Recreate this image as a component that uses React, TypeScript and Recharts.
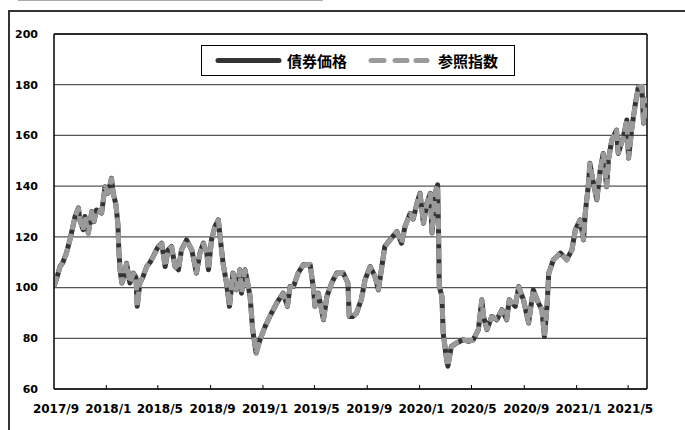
import React from 'react';
import { LineChart, Line, XAxis, YAxis, CartesianGrid, ReferenceLine } from 'recharts';

const dates = [
  '2017/9/1', '2017/9/8', '2017/9/15', '2017/9/22', '2017/9/30', '2017/10/8', '2017/10/15', '2017/10/20', '2017/10/28', '2017/10/31',
  '2017/11/8', '2017/11/12', '2017/11/20', '2017/11/28', '2017/12/3', '2017/12/9', '2017/12/21', '2017/12/29', '2018/1/5', '2018/1/13',
  '2018/1/17', '2018/1/23', '2018/1/28', '2018/1/30', '2018/2/2', '2018/2/6', '2018/2/11', '2018/2/17', '2018/2/25', '2018/3/5',
  '2018/3/11', '2018/3/14', '2018/3/20', '2018/3/27', '2018/4/5', '2018/4/13', '2018/4/20', '2018/5/2', '2018/5/10', '2018/5/18',
  '2018/5/25', '2018/6/2', '2018/6/10', '2018/6/18', '2018/6/25', '2018/7/7', '2018/7/19', '2018/7/30', '2018/8/7', '2018/8/15',
  '2018/8/23', '2018/8/27', '2018/9/3', '2018/9/11', '2018/9/19', '2018/9/23', '2018/9/30', '2018/10/8', '2018/10/15', '2018/10/23',
  '2018/10/31', '2018/11/8', '2018/11/12', '2018/11/20', '2018/11/25', '2018/12/2', '2018/12/8', '2018/12/16', '2018/12/25', '2019/1/6',
  '2019/1/17', '2019/2/2', '2019/2/17', '2019/2/27', '2019/3/5', '2019/3/13', '2019/3/24', '2019/4/5', '2019/4/21', '2019/4/29',
  '2019/5/2', '2019/5/10', '2019/5/22', '2019/5/30', '2019/6/10', '2019/6/22', '2019/7/7', '2019/7/18', '2019/7/21', '2019/7/29',
  '2019/8/7', '2019/8/18', '2019/8/27', '2019/9/8', '2019/9/19', '2019/9/27', '2019/10/5', '2019/10/12', '2019/10/24', '2019/11/9',
  '2019/11/20', '2019/11/28', '2019/12/10', '2019/12/17', '2019/12/26', '2020/1/2', '2020/1/10', '2020/1/18', '2020/1/26', '2020/1/30',
  '2020/2/6', '2020/2/12', '2020/2/14', '2020/2/16', '2020/2/22', '2020/2/25', '2020/3/4', '2020/3/7', '2020/3/15', '2020/3/27',
  '2020/4/12', '2020/4/24', '2020/5/5', '2020/5/17', '2020/5/25', '2020/5/29', '2020/6/6', '2020/6/17', '2020/6/29', '2020/7/11',
  '2020/7/22', '2020/7/28', '2020/8/11', '2020/8/19', '2020/8/30', '2020/9/11', '2020/9/22', '2020/10/4', '2020/10/12', '2020/10/18',
  '2020/10/24', '2020/10/28', '2020/11/8', '2020/11/24', '2020/12/9', '2020/12/21', '2020/12/29', '2021/1/9', '2021/1/17', '2021/1/21',
  '2021/1/28', '2021/2/1', '2021/2/9', '2021/2/17', '2021/2/25', '2021/3/4', '2021/3/12', '2021/3/16', '2021/3/24', '2021/4/4',
  '2021/4/8', '2021/4/20', '2021/4/28', '2021/5/2', '2021/5/10', '2021/5/18', '2021/5/25', '2021/6/2', '2021/6/6', '2021/6/14',
];

const bondPrice = [
  100.5, 104, 108.3, 110, 113.7, 118.8, 124, 128, 131.4, 126.7,
  122.8, 128, 121.5, 130, 126, 130.6, 129.4, 139.8, 137.2, 143.1,
  137.2, 133, 125, 115, 107, 101.8, 104, 109.6, 101.8, 105.7,
  104, 92.6, 101.8, 104, 108.3, 110, 112.2, 116.2, 117.5, 108.3,
  114.9, 116.2, 108.3, 107, 114.9, 118.8, 114.9, 105.7, 113.6, 117.5,
  113.6, 107, 118.8, 124, 126.7, 120.1, 109.6, 101.8, 92.6, 105.7,
  99.1, 107, 97.8, 107, 103, 96.5, 83.4, 74.2, 79.4, 84.7,
  88.6, 93.9, 97.8, 92.6, 100.4, 100.4, 105.7, 109, 109, 99.1,
  92.6, 97.8, 87.3, 96.5, 101.8, 105.7, 105.7, 101.8, 88.6, 88.6,
  89.9, 95.2, 103.1, 108.3, 104.4, 99.1, 108.3, 116.2, 118.8, 122.1,
  117.5, 124, 129.3, 127, 133.3, 137.2, 125.4, 133.3, 137.2, 121.5,
  137.2, 140.5, 124, 100.4, 96.5, 82.1, 71.6, 69, 76.8, 78.1,
  79.4, 78.8, 79.4, 83.4, 95.2, 88.6, 83.4, 88.6, 87.3, 91.3,
  87.3, 95.2, 92.6, 100.4, 95.2, 86, 99.1, 93.9, 91.3, 80.7,
  92.6, 105.7, 111, 113.6, 111, 114.9, 122.8, 126.7, 118.8, 129.3,
  139.8, 149, 141.2, 134.6, 146.4, 152.9, 139.8, 150.3, 158.2, 162.1,
  152.9, 159.5, 166.1, 151, 163.4, 172.6, 179.2, 179.2, 164.8, 175.2,
];

const referenceIndex = [
  100.3, 104.2, 108.1, 110.2, 113.5, 118.6, 124.2, 127.8, 131.2, 126.9,
  122.6, 128.2, 121.3, 129.8, 126.2, 130.4, 129.6, 139.6, 137.4, 142.9,
  137, 133.2, 124.8, 115.2, 106.8, 102, 103.8, 109.4, 102, 105.5,
  104.2, 92.8, 101.6, 104.2, 108.1, 110.2, 112, 116, 117.3, 108.5,
  114.7, 116, 108.5, 107.2, 114.7, 118.6, 115.1, 105.9, 113.4, 117.3,
  113.8, 107.2, 118.6, 123.8, 126.5, 120.3, 109.4, 102, 92.8, 105.5,
  99.3, 106.8, 98, 106.8, 103.2, 96.7, 83.6, 74.4, 79.2, 84.5,
  88.8, 93.7, 97.6, 92.8, 100.2, 100.6, 105.5, 108.8, 109.2, 99.3,
  92.8, 97.6, 87.5, 96.3, 101.6, 105.5, 105.9, 101.6, 88.8, 88.4,
  90.1, 95, 102.9, 108.1, 104.6, 99.3, 108.1, 116, 118.6, 121.9,
  117.7, 123.8, 129.1, 127.2, 133.1, 137, 125.6, 133.1, 137, 121.7,
  137, 140.3, 124.2, 100.6, 96.3, 82.3, 71.8, 69.2, 76.6, 78.3,
  79.2, 79, 79.2, 83.6, 95, 88.8, 83.6, 88.4, 87.5, 91.1,
  87.5, 95, 92.8, 100.2, 95.4, 86.2, 98.9, 94.1, 91.1, 80.9,
  92.4, 105.5, 110.8, 113.8, 110.8, 114.7, 122.6, 126.5, 119, 129.1,
  139.6, 148.8, 141.4, 134.8, 146.2, 152.7, 140, 150.1, 158, 161.9,
  153.1, 159.3, 165.9, 151.2, 163.2, 172.4, 179, 179.4, 165, 175,
];

const seriesNames = ['債券価格', '参照指数'];
const xTickDates = ['2017/9/1', '2018/1/1', '2018/5/1', '2018/9/1', '2019/1/1', '2019/5/1', '2019/9/1', '2020/1/1', '2020/5/1', '2020/9/1', '2021/1/1', '2021/5/1'];
const xTickLabels = ['2017/9', '2018/1', '2018/5', '2018/9', '2019/1', '2019/5', '2019/9', '2020/1', '2020/5', '2020/9', '2021/1', '2021/5'];
const yTicks = [60, 80, 100, 120, 140, 160, 180, 200];
const xStartDate = '2017/9/1';
const xEndDate = '2021/6/14';

const toTime = (s: string) => {
  const [y, m, d] = s.split('/').map(Number);
  return Date.UTC(y, m - 1, d);
};

const data = dates.map((d, i) => ({ t: toTime(d), bond: bondPrice[i], ref: referenceIndex[i] }));
const xTickTimes = xTickDates.map(toTime);
const xStart = toTime(xStartDate);
const xEnd = toTime(xEndDate);

const FONT = '"DejaVu Sans", sans-serif';
const JFONT = '"Noto Sans CJK JP", sans-serif';

const XTick = (props: any) => {
  const { x, y, payload } = props;
  const idx = xTickTimes.indexOf(payload.value);
  return (
    <g>
      {idx > 0 && <line x1={x} x2={x} y1={y} y2={y - 4} stroke="#000" strokeWidth={1} />}
      <text x={x + 2} y={y + 24} textAnchor="middle" fontFamily={FONT} fontWeight="bold" fontSize={12} fill="#000">
        {xTickLabels[idx]}
      </text>
    </g>
  );
};

export default function App() {
  return (
    <div style={{ position: 'fixed', left: 0, top: 0, width: 685, height: 430, overflow: 'hidden', background: '#fff' }}>
      <div style={{ position: 'absolute', left: 18, top: -1, width: 305, height: 2, background: '#aaa' }} />
      <div style={{ position: 'absolute', left: 8, top: 10, width: 700, height: 440, borderLeft: '2px solid #333', borderTop: '2px solid #333', boxSizing: 'border-box' }} />
      <div style={{ position: 'absolute', left: 0, top: 0 }}>
        <LineChart width={685} height={430} data={data} margin={{ top: 34, right: 38, bottom: 11, left: 0 }}>
          <CartesianGrid vertical={false} stroke="#555" strokeWidth={1.2} />
          <XAxis
            dataKey="t"
            type="number"
            domain={[xStart, xEnd]}
            ticks={xTickTimes}
            allowDataOverflow
            height={30}
            tickSize={0}
            tickMargin={0}
            tickLine={false}
            axisLine={{ stroke: '#000', strokeWidth: 1.5 }}
            tick={<XTick />}
            interval={0}
          />
          <YAxis
            domain={[60, 200]}
            ticks={yTicks}
            width={54}
            tickSize={0}
            tickMargin={16}
            tickLine={false}
            axisLine={{ stroke: '#000', strokeWidth: 1.5 }}
            tick={{ fontFamily: FONT, fontWeight: 'bold', fontSize: 11, fill: '#000' }}
            interval={0}
          />
          <ReferenceLine y={200} stroke="#000" strokeWidth={1.5} />
          <ReferenceLine x={xEnd} stroke="#000" strokeWidth={1.5} />
          <Line type="linear" dataKey="bond" name={seriesNames[0]} stroke="#333" strokeWidth={5} strokeLinejoin="round" dot={false} isAnimationActive={false} />
          <Line type="linear" dataKey="ref" name={seriesNames[1]} stroke="#9a9a9a" strokeWidth={5} strokeDasharray="11 4" strokeLinejoin="round" dot={false} isAnimationActive={false} />
        </LineChart>
      </div>
      <div style={{ position: 'absolute', left: 201, top: 45, width: 314, height: 31, border: '1px solid #000', background: '#fff', boxSizing: 'border-box' }}>
        <svg width={312} height={29} style={{ display: 'block' }}>
          <line x1={16} x2={77} y1={14.5} y2={14.5} stroke="#333" strokeWidth={5} strokeLinecap="round" />
          <text x={85} y={14.5} dominantBaseline="central" fontFamily={JFONT} fontWeight="bold" fontSize={15} fill="#000">{seriesNames[0]}</text>
          <line x1={169} x2={182} y1={14.5} y2={14.5} stroke="#9a9a9a" strokeWidth={5} strokeLinecap="round" />
          <line x1={193} x2={205} y1={14.5} y2={14.5} stroke="#9a9a9a" strokeWidth={5} strokeLinecap="round" />
          <line x1={214} x2={225} y1={14.5} y2={14.5} stroke="#9a9a9a" strokeWidth={5} strokeLinecap="round" />
          <text x={236} y={14.5} dominantBaseline="central" fontFamily={JFONT} fontWeight="bold" fontSize={15} fill="#000">{seriesNames[1]}</text>
        </svg>
      </div>
    </div>
  );
}
